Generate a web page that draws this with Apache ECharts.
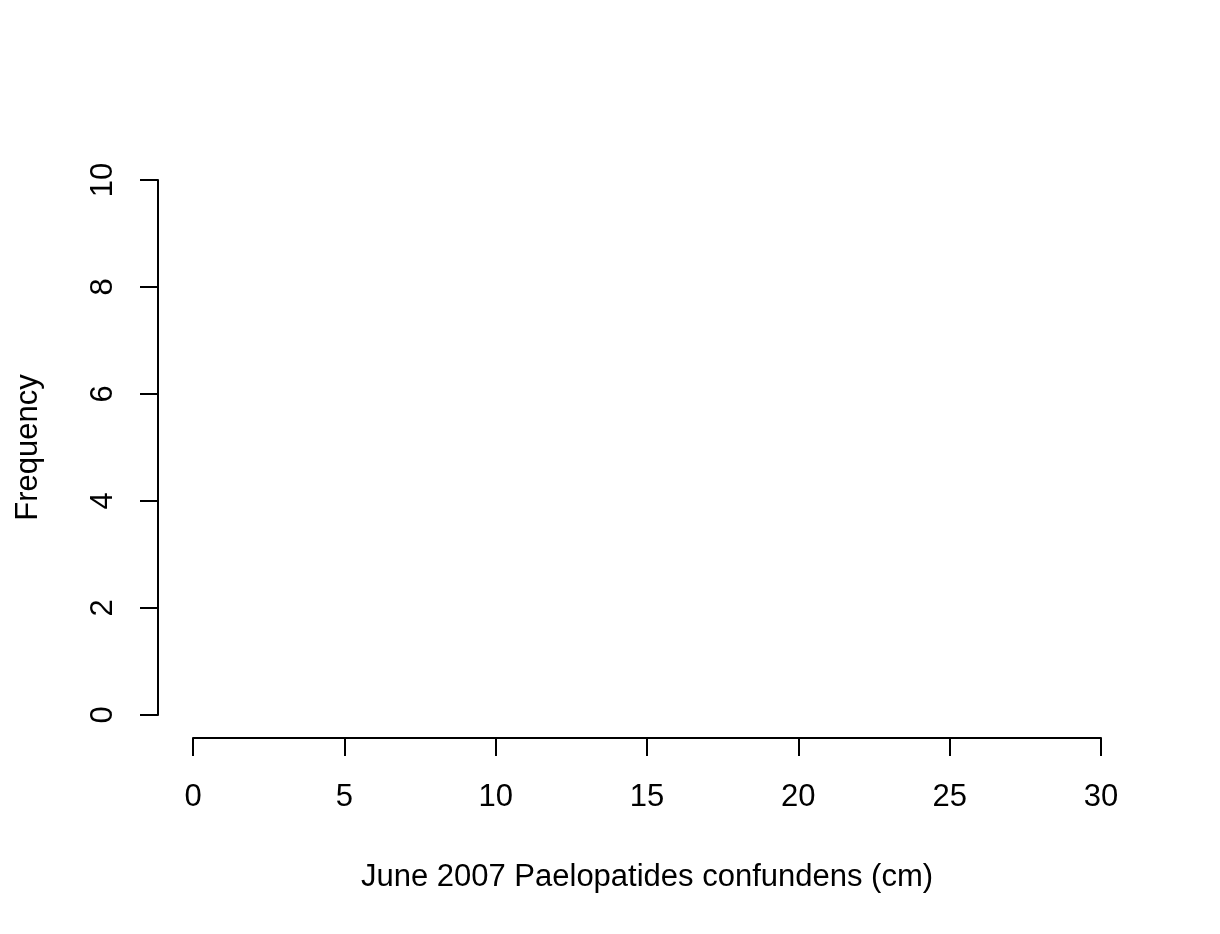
<!DOCTYPE html>
<html>
<head>
<meta charset="utf-8">
<script src="https://cdn.jsdelivr.net/npm/echarts@6/dist/echarts.min.js"></script>
<style>html,body{margin:0;padding:0;background:#fff}#c{width:1220px;height:934px}</style>
</head>
<body>
<div id="c"></div>
<script>
// Data: the histogram has no bars (empty sample)
const binEdges = [0, 5, 10, 15, 20, 25, 30];
const frequencies = []; // no observations drawn
const xTicks = [0, 5, 10, 15, 20, 25, 30];
const yTicks = [0, 2, 4, 6, 8, 10];
const xTitle = 'June 2007 Paelopatides confundens (cm)';
const yTitle = 'Frequency';

const chart = echarts.init(document.getElementById('c'));
const font = 'Liberation Sans, Arial, sans-serif';
const fs = 31;
chart.setOption({
  animation: false,
  backgroundColor: '#ffffff',
  grid: { left: 193, right: 119, top: 180, bottom: 219, containLabel: false, outerBoundsMode: 'none' },
  xAxis: {
    type: 'value', min: xTicks[0], max: xTicks[xTicks.length - 1], interval: 5,
    offset: 23,
    name: xTitle, nameLocation: 'middle', nameGap: 124,
    nameTextStyle: { fontFamily: font, fontSize: fs, color: '#000' },
    axisLine: { show: true, onZero: false, lineStyle: { color: '#000', width: 2 } },
    axisTick: { show: true, length: 18, lineStyle: { color: '#000', width: 2 } },
    axisLabel: { fontFamily: font, fontSize: fs, color: '#000', margin: 44 },
    splitLine: { show: false }
  },
  yAxis: {
    type: 'value', min: yTicks[0], max: yTicks[yTicks.length - 1], interval: 2,
    offset: 35,
    name: yTitle, nameLocation: 'middle', nameGap: 114, nameRotate: 90,
    nameTextStyle: { fontFamily: font, fontSize: fs, color: '#000' },
    axisLine: { show: true, onZero: false, lineStyle: { color: '#000', width: 2 } },
    axisTick: { show: true, length: 18, lineStyle: { color: '#000', width: 2 } },
    axisLabel: { fontFamily: font, fontSize: fs, color: '#000', margin: 39, rotate: 90 },
    splitLine: { show: false }
  },
  series: [{
    type: 'bar', barWidth: '100%', barGap: 0,
    itemStyle: { color: '#ffffff', borderColor: '#000', borderWidth: 2 },
    data: frequencies.map((f, i) => [(binEdges[i] + binEdges[i + 1]) / 2, f])
  }]
});
</script>
</body>
</html>
